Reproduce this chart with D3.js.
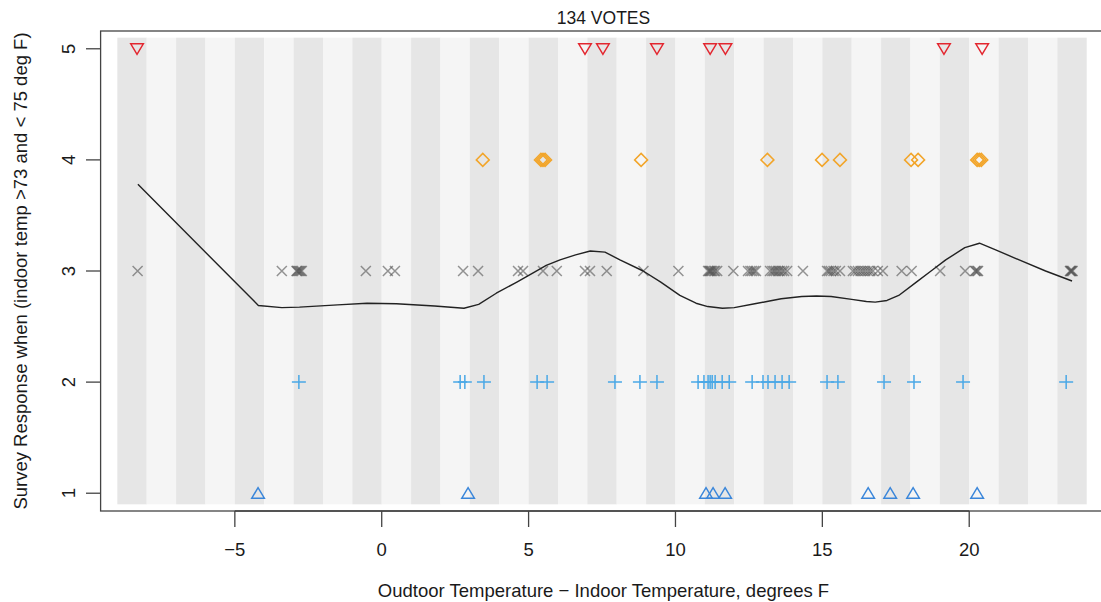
<!DOCTYPE html>
<html>
<head>
<meta charset="utf-8">
<script src="https://cdn.jsdelivr.net/npm/d3@7"></script>
<style>
  html, body { margin: 0; padding: 0; background: #fff; }
  svg text { font-family: "Liberation Sans", Arial, Helvetica, sans-serif; fill: #1a1a1a; }
</style>
</head>
<body>
<svg id="chart" width="1101" height="602"></svg>
<script>
// Survey responses (1..5) against outdoor minus indoor temperature difference.
const resp5 = [-8.33, 6.92, 7.53, 9.37, 11.18, 11.70, 19.14, 20.44];
const resp4 = [3.44, 5.42, 5.49, 5.56, 8.83, 13.13, 14.99, 15.60, 18.02, 18.26, 20.27, 20.34, 20.41];
const resp3 = [-8.31, -3.40, -2.90, -2.88, -2.84, -2.80, -2.76, -2.72, -0.54, 0.21, 0.45, 2.77, 3.28,
  4.64, 4.81, 5.49, 5.96, 6.92, 7.09, 7.66, 8.91, 10.10,
  11.11, 11.15, 11.18, 11.21, 11.25, 11.31, 11.35, 11.42, 11.97,
  12.47, 12.55, 12.61, 12.68, 12.74,
  13.22, 13.30, 13.36, 13.42, 13.49, 13.55, 13.63, 13.70, 13.80, 14.34,
  15.16, 15.22, 15.29, 15.38, 15.46, 15.60,
  16.04, 16.12, 16.21, 16.30, 16.38, 16.46, 16.55, 16.63, 16.72, 16.89, 17.06,
  17.70, 18.04, 19.01, 19.86, 20.20, 20.22, 20.27, 20.30,
  23.43, 23.45, 23.47, 23.49, 23.52];
const resp2 = [-2.82, 2.67, 2.83, 3.48, 5.29, 5.63, 7.94, 8.79, 9.37, 10.77, 10.97, 11.11, 11.18,
  11.25, 11.35, 11.59, 11.83, 12.61, 12.98, 13.15, 13.39, 13.63, 13.87, 15.16, 15.53,
  17.10, 18.12, 19.79, 23.30];
const resp1 = [-4.21, 2.94, 11.04, 11.28, 11.69, 16.56, 17.31, 18.09, 20.27];

// Smoothed trend of the responses (piecewise linear, as evaluated at the sample points)
const smoothX = [-8.3, -4.2, -3.4, -2.8, -1.5, -0.5, 0.5, 1.8, 2.8, 3.3, 3.9, 4.6, 5.2, 5.6, 6.07, 6.6,
  7.1, 7.6, 8.11, 8.9, 9.5, 10.15, 10.7, 11.1, 11.6, 12.0, 12.7, 13.2, 13.6, 14.3, 14.8, 15.3, 16.0,
  16.5, 16.8, 17.2, 17.6, 18.2, 18.7, 19.2, 19.85, 20.35, 20.9, 21.7, 22.6, 23.5];
const smoothY = [3.78, 2.69, 2.67, 2.675, 2.695, 2.71, 2.705, 2.685, 2.665, 2.70, 2.80, 2.90, 2.99, 3.05, 3.10, 3.145,
  3.18, 3.17, 3.10, 3.00, 2.90, 2.78, 2.71, 2.68, 2.665, 2.67, 2.705, 2.73, 2.75, 2.77, 2.775, 2.77, 2.745,
  2.725, 2.72, 2.735, 2.78, 2.90, 3.00, 3.10, 3.21, 3.25, 3.19, 3.10, 3.00, 2.91];

const xTicks = [-5, 0, 5, 10, 15, 20];
const yTicks = [1, 2, 3, 4, 5];
const titleText = "134 VOTES";
const xTitle = "Oudtoor Temperature \u2212 Indoor Temperature, degrees F";
const yTitle = "Survey Response when (indoor temp >73 and < 75 deg F)";

const svg = d3.select("#chart");
const x = d3.scaleLinear().domain([-9.57, 24.67]).range([100.6, 1106.4]);
const y = d3.scaleLinear().domain([0.84, 5.16]).range([511, 31]);

// alternating one-degree bands
const bands = d3.range(-9, 24);
svg.append("g").selectAll("rect").data(bands).join("rect")
  .attr("x", d => x(d))
  .attr("width", d => x(d + 1) - x(d))
  .attr("y", y(5.1))
  .attr("height", y(0.9) - y(5.1))
  .attr("fill", d => (Math.abs(d) % 2 === 1) ? "#e6e6e6" : "#f5f5f5");

// plot frame
svg.append("rect")
  .attr("x", x.range()[0]).attr("y", y.range()[1])
  .attr("width", x.range()[1] - x.range()[0])
  .attr("height", y.range()[0] - y.range()[1])
  .attr("fill", "none").attr("stroke", "#444").attr("stroke-width", 1.3);

// x axis
const gx = svg.append("g");
gx.append("line").attr("x1", x(xTicks[0])).attr("x2", x(xTicks[xTicks.length - 1]))
  .attr("y1", 511).attr("y2", 511).attr("stroke", "#444").attr("stroke-width", 1.3);
gx.selectAll("line.t").data(xTicks).join("line").attr("class", "t")
  .attr("x1", d => x(d)).attr("x2", d => x(d))
  .attr("y1", 511).attr("y2", 527).attr("stroke", "#444").attr("stroke-width", 1.3);
gx.selectAll("text").data(xTicks).join("text")
  .attr("x", d => x(d)).attr("y", 556)
  .attr("text-anchor", "middle").attr("font-size", 18.5)
  .text(d => d < 0 ? "\u2212" + Math.abs(d) : d);

// y axis
const gy = svg.append("g");
gy.selectAll("line.t").data(yTicks).join("line").attr("class", "t")
  .attr("x1", 86).attr("x2", 100.6)
  .attr("y1", d => y(d)).attr("y2", d => y(d)).attr("stroke", "#444").attr("stroke-width", 1.3);
gy.selectAll("text").data(yTicks).join("text")
  .attr("transform", d => `translate(75,${y(d)}) rotate(-90)`)
  .attr("text-anchor", "middle").attr("font-size", 18.5)
  .text(d => d);

// titles
svg.append("text").attr("x", 603.5).attr("y", 24).attr("text-anchor", "middle")
  .attr("font-size", 17.5).text(titleText);
svg.append("text").attr("x", 603.5).attr("y", 597).attr("text-anchor", "middle")
  .attr("font-size", 18.5).text(xTitle);
svg.append("text").attr("transform", `translate(27,271) rotate(-90)`)
  .attr("text-anchor", "middle").attr("font-size", 18.5).text(yTitle);

// markers
const g = svg.append("g").attr("fill", "none");

// 5: downward triangles
g.selectAll("path.r5").data(resp5).join("path").attr("class", "r5")
  .attr("transform", d => `translate(${x(d)},${y(5)})`)
  .attr("d", "M-6.3,-5L6.3,-5L0,5.6Z")
  .attr("stroke", "#e3262f").attr("stroke-width", 1.5);

// 4: diamonds
g.selectAll("path.r4").data(resp4).join("path").attr("class", "r4")
  .attr("transform", d => `translate(${x(d)},${y(4)})`)
  .attr("d", "M0,-6.5L6.5,0L0,6.5L-6.5,0Z")
  .attr("stroke", "#f2a52a").attr("stroke-width", 1.5);

// 3: crosses
g.selectAll("path.r3").data(resp3).join("path").attr("class", "r3")
  .attr("transform", d => `translate(${x(d)},${y(3)})`)
  .attr("d", "M-5,-5L5,5M-5,5L5,-5")
  .attr("stroke", "#555").attr("stroke-opacity", 0.62).attr("stroke-width", 1.5);

// 2: plus signs
g.selectAll("path.r2").data(resp2).join("path").attr("class", "r2")
  .attr("transform", d => `translate(${x(d)},${y(2)})`)
  .attr("d", "M-7,0L7,0M0,-7L0,7")
  .attr("stroke", "#4aa8e6").attr("stroke-width", 1.5);

// 1: upward triangles
g.selectAll("path.r1").data(resp1).join("path").attr("class", "r1")
  .attr("transform", d => `translate(${x(d)},${y(1)})`)
  .attr("d", "M-6.3,5L6.3,5L0,-5.6Z")
  .attr("stroke", "#3a86da").attr("stroke-width", 1.5);

// smoothed trend line
const pts = smoothX.map((v, i) => [v, smoothY[i]]);
svg.append("path").datum(pts)
  .attr("d", d3.line().x(d => x(d[0])).y(d => y(d[1])))
  .attr("fill", "none").attr("stroke", "#222").attr("stroke-width", 1.4)
  .attr("stroke-linejoin", "round");
</script>
</body>
</html>
